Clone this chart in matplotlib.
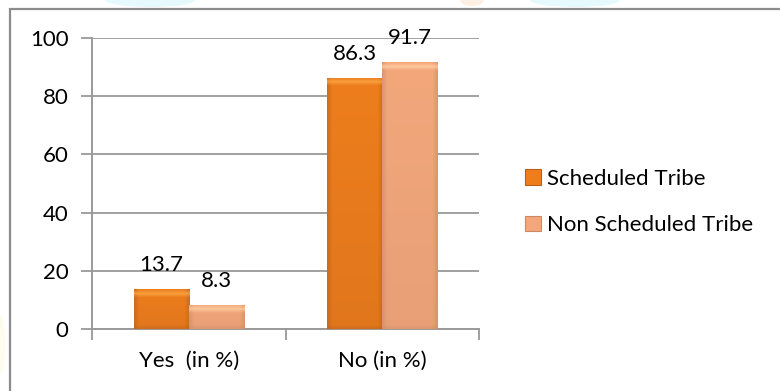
import numpy as np
import matplotlib
matplotlib.use("Agg")
import matplotlib.pyplot as plt
from matplotlib.patches import Rectangle, Ellipse
from matplotlib.colors import to_rgb

categories = ["Yes  (in %)", "No (in %)"]
series_names = ["Scheduled Tribe", "Non Scheduled Tribe"]
scheduled_tribe = [13.7, 86.3]
non_scheduled_tribe = [8.3, 91.7]
y_ticks = [0, 20, 40, 60, 80, 100]

colors = ["#EE7E1C", "#F3A77B"]
edge_colors = ["#B8601E", "#C98A6A"]

plt.rcParams['font.family'] = ['Lato', 'DejaVu Sans']
FS = 16

W, H = 780, 391
fig = plt.figure(figsize=(W / 100, H / 100), dpi=100)
fig.patch.set_facecolor("white")

# faint watermark blobs (mostly hidden above the border)
for (cx, cy, w, h, c) in [(150, 0, 90, 14, "#e6f9fc"), (575, 0, 90, 14, "#e6f9fc"),
                         (472, 0, 24, 12, "#fdf0e2"), (0, 345, 10, 60, "#fefcea")]:
    fig.patches.append(Ellipse((cx / W, 1 - cy / H), w / W, h / H, transform=fig.transFigure,
                               facecolor=c, edgecolor="none", zorder=0))

# outer border (right and bottom edges lie outside the image)
fig.patches.append(Rectangle((10 / W, -0.2), 1.2, 1.2 - 9 / H, transform=fig.transFigure,
                             fill=False, edgecolor="#8c8c8c", linewidth=1.6, zorder=1))

ax = fig.add_axes([92 / W, 1 - 329 / H, (479 - 92) / W, (329 - 38) / H])
ax.set_facecolor("none")
ax.set_xlim(-0.5, len(categories) - 0.5)
ax.set_ylim(0, 100)
ax.set_yticks(y_ticks)
ax.tick_params(axis='y', length=8, width=1.3, color="#999999", labelsize=FS, pad=9)
ax.yaxis.grid(True, color="#a0a0a0", linewidth=1.4)
ax.set_axisbelow(True)
for s in ["top", "right"]:
    ax.spines[s].set_visible(False)
for s in ["left", "bottom"]:
    ax.spines[s].set_color("#9a9a9a")
    ax.spines[s].set_linewidth(1.4)

x = np.arange(len(categories))
ax.set_xticks(x)
ax.set_xticklabels(categories)
ax.tick_params(axis='x', which='major', length=0, labelsize=FS, pad=16)
ax.set_xticks(np.arange(len(categories) + 1) - 0.5, minor=True)
ax.tick_params(axis='x', which='minor', length=8, width=1.3, color="#999999")

bw = 0.285
all_bars = []
for i, (vals, col, ec) in enumerate(zip([scheduled_tribe, non_scheduled_tribe], colors, edge_colors)):
    bars = ax.bar(x + (i - 0.5) * bw, vals, bw, color=col, edgecolor="none",
                  label=series_names[i], zorder=3)
    all_bars.append((bars, col, ec))

fig.canvas.draw()
for bars, col, ec in all_bars:
    base = np.array(to_rgb(col))
    dark = np.array(to_rgb(ec))
    light = np.minimum(base + 0.18, 1)
    for b in bars:
        x0, y0 = b.get_x(), b.get_y()
        w, h = b.get_width(), b.get_height()
        p0 = ax.transData.transform((x0, y0))
        p1 = ax.transData.transform((x0 + w, y0 + h))
        npx_w = max(int(round(p1[0] - p0[0])), 2)
        npx_h = max(int(round(p1[1] - p0[1])), 2)
        img = np.tile(base, (npx_h, npx_w, 1))
        ys = np.arange(npx_h)
        vfac = (ys / max(npx_h - 1, 1)) * 0.25
        img = img * (1 - vfac[:, None, None]) + dark * vfac[:, None, None]
        xs = np.arange(npx_w)
        edge = np.clip(1 - np.minimum(xs, npx_w - 1 - xs) / 5.0, 0, 1)
        img = img * (1 - 0.55 * edge[None, :, None]) + dark * (0.55 * edge[None, :, None])
        top = np.clip(1 - np.abs(ys - 4) / 4.0, 0, 1)
        img = img * (1 - 0.7 * top[:, None, None]) + light * (0.7 * top[:, None, None])
        bot = np.clip(1 - (npx_h - 1 - ys) / 4.0, 0, 1)
        img = img * (1 - 0.4 * bot[:, None, None]) + dark * (0.4 * bot[:, None, None])
        im = ax.imshow(img, extent=(x0, x0 + w, y0, y0 + h), origin='upper',
                       aspect='auto', zorder=3.5, interpolation='bilinear')
        im.set_clip_path(b)
        ax.annotate(f"{b.get_height():.1f}", (x0 + w / 2, y0 + h), xytext=(0, 13),
                    textcoords="offset points", ha='center', va='baseline',
                    fontsize=FS, zorder=5)
ax.set_xlim(-0.5, len(categories) - 0.5)
ax.set_ylim(0, 100)

leg = fig.legend(loc='center left', bbox_to_anchor=(514 / W, 1 - 202 / H), frameon=False,
                 fontsize=FS, handlelength=0.72, handleheight=0.68, handletextpad=0.25,
                 labelspacing=1.2, borderpad=0)
for hnd, ec in zip(leg.legend_handles, edge_colors):
    hnd.set_edgecolor(ec)
    hnd.set_linewidth(0.8)

fig.savefig("out.png", dpi=100)
